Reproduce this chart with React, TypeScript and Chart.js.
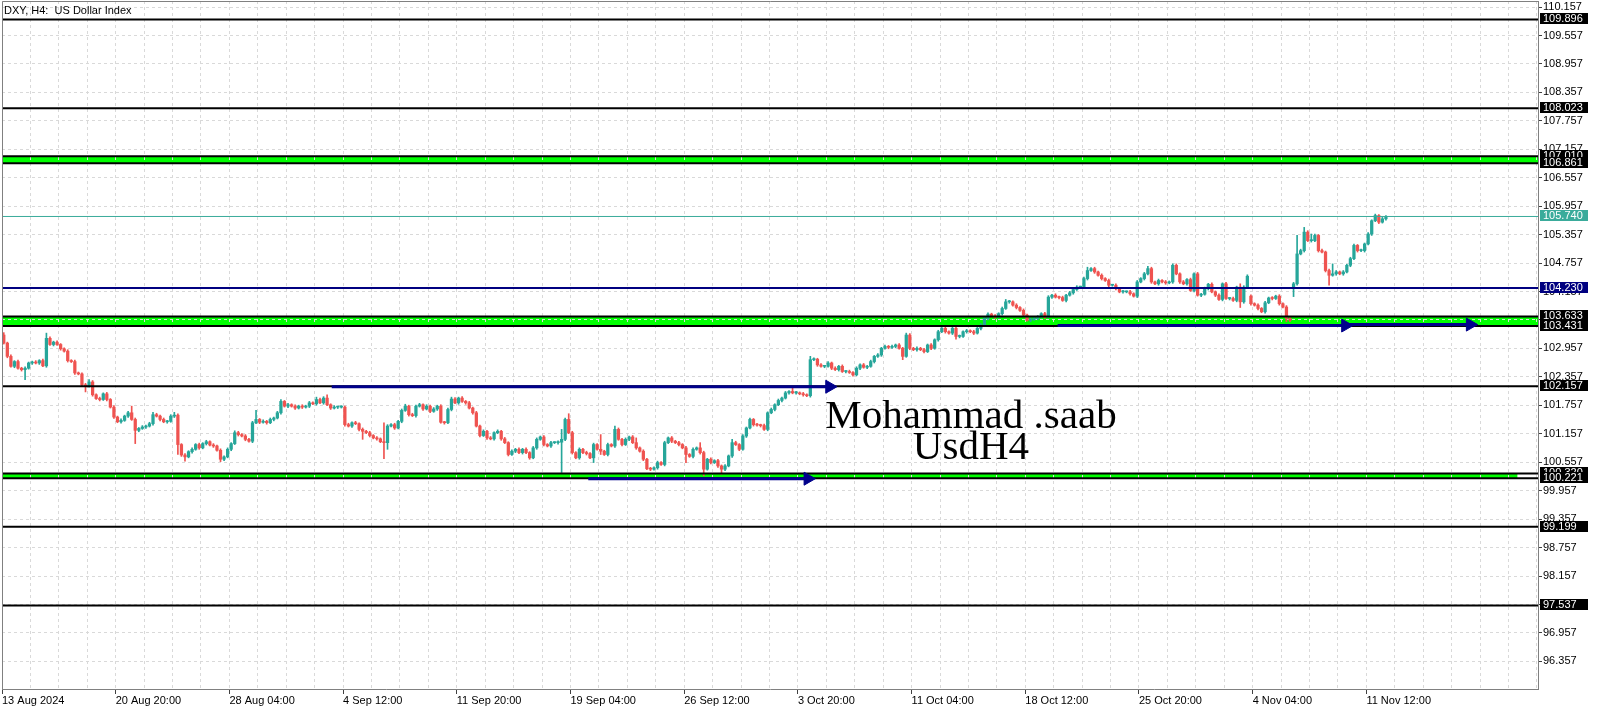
import React, { useEffect, useRef } from 'react';
import { Chart, registerables } from 'chart.js';

Chart.register(...registerables);

// ---------------- data ----------------
const firstOpen = 103.24;

// H4 closes, bar 0 = 13 Aug 2024
const closes: number[] = [
  103.07, 102.79, 102.58, 102.68, 102.54, 102.51, 102.54, 102.65, 102.67, 102.65,
  102.70, 102.59, 103.17, 103.04, 103.09, 103.04, 102.95, 102.90, 102.70, 102.68,
  102.44, 102.42, 102.19, 102.16, 102.25, 101.98, 101.90, 101.88, 102.00, 101.88,
  101.72, 101.51, 101.41, 101.44, 101.53, 101.60, 101.46, 101.23, 101.27, 101.30,
  101.32, 101.37, 101.56, 101.53, 101.46, 101.41, 101.42, 101.53, 101.55, 100.93,
  100.71, 100.67, 100.78, 100.83, 100.93, 100.86, 100.95, 100.99, 100.92, 100.90,
  100.81, 100.62, 100.67, 100.83, 100.95, 101.18, 101.14, 101.11, 101.04, 101.00,
  101.39, 101.46, 101.40, 101.42, 101.39, 101.46, 101.49, 101.60, 101.84, 101.74,
  101.77, 101.74, 101.70, 101.74, 101.72, 101.74, 101.81, 101.79, 101.88, 101.81,
  101.91, 101.77, 101.70, 101.72, 101.72, 101.72, 101.35, 101.32, 101.39, 101.37,
  101.25, 101.21, 101.18, 101.12, 101.07, 101.05, 100.99, 100.97, 101.32, 101.35,
  101.28, 101.42, 101.65, 101.74, 101.56, 101.54, 101.74, 101.77, 101.68, 101.74,
  101.63, 101.68, 101.74, 101.40, 101.39, 101.67, 101.89, 101.81, 101.91, 101.84,
  101.81, 101.70, 101.60, 101.32, 101.12, 101.21, 101.07, 101.05, 101.18, 101.21,
  101.05, 100.97, 100.72, 100.79, 100.83, 100.76, 100.83, 100.76, 100.65, 100.86,
  101.04, 101.09, 100.93, 100.90, 100.97, 100.97, 100.98, 101.04, 101.46, 101.18,
  100.76, 100.65, 100.83, 100.76, 100.74, 100.65, 100.93, 100.83, 100.79, 100.72,
  100.93, 100.90, 101.25, 101.04, 100.93, 101.04, 101.09, 100.97, 100.86, 100.79,
  100.62, 100.42, 100.41, 100.44, 100.55, 100.51, 100.97, 101.07, 101.00, 100.97,
  100.93, 100.86, 100.72, 100.68, 100.83, 100.86, 100.76, 100.41, 100.62, 100.55,
  100.59, 100.48, 100.41, 100.48, 100.69, 100.97, 100.93, 100.83, 101.11, 101.28,
  101.46, 101.35, 101.34, 101.33, 101.25, 101.60, 101.67, 101.77, 101.86, 101.91,
  102.02, 102.05, 102.02, 102.02, 102.00, 101.98, 101.96, 102.72, 102.73, 102.61,
  102.58, 102.58, 102.65, 102.54, 102.51, 102.58, 102.47, 102.47, 102.45, 102.40,
  102.54, 102.61, 102.56, 102.58, 102.68, 102.79, 102.82, 102.96, 103.00, 102.98,
  103.00, 103.03, 102.96, 102.79, 103.24, 102.96, 102.93, 102.96, 102.93, 102.89,
  103.03, 102.96, 103.14, 103.31, 103.38, 103.31, 103.28, 103.38, 103.21, 103.21,
  103.31, 103.33, 103.31, 103.28, 103.38, 103.45, 103.59, 103.68, 103.64, 103.62,
  103.69, 103.80, 103.94, 103.94, 103.87, 103.82, 103.76, 103.66, 103.55, 103.57,
  103.59, 103.62, 103.69, 103.62, 104.04, 104.08, 104.04, 104.03, 103.97, 104.08,
  104.13, 104.20, 104.25, 104.25, 104.43, 104.60, 104.64, 104.57, 104.50, 104.43,
  104.39, 104.29, 104.29, 104.22, 104.15, 104.15, 104.15, 104.11, 104.06, 104.36,
  104.43, 104.53, 104.64, 104.36, 104.32, 104.39, 104.36, 104.34, 104.36, 104.71,
  104.53, 104.36, 104.32, 104.41, 104.18, 104.53, 104.08, 104.10, 104.22, 104.31,
  104.15, 104.08, 103.99, 104.32, 104.01, 104.01, 103.97, 104.25, 103.94, 104.25,
  104.48, 103.90, 103.87, 103.80, 103.73, 103.92, 104.02, 104.01, 104.06, 103.90,
  103.83, 103.59, 103.55, 104.32, 104.95, 105.02, 105.41, 105.23, 105.23, 105.34,
  105.02, 104.99, 104.60, 104.50, 104.53, 104.57, 104.53, 104.57, 104.71, 104.85,
  105.13, 105.02, 105.02, 105.16, 105.37, 105.65, 105.76, 105.62, 105.69, 105.74,
];

// wick lengths above / below the body, in 0.01 price units
const upperWick: number[] = [
  5, 2, 3, 2, 3, 2, 3, 2, 2, 3,
  2, 3, 11, 3, 2, 3, 2, 2, 3, 2,
  3, 2, 2, 3, 5, 3, 2, 3, 2, 3,
  2, 3, 2, 3, 2, 3, 14, 3, 2, 3,
  2, 3, 5, 3, 2, 3, 2, 3, 6, 3,
  2, 3, 2, 3, 2, 3, 2, 3, 2, 3,
  2, 3, 2, 3, 2, 4, 3, 2, 3, 2,
  3, 19, 2, 3, 2, 3, 2, 3, 4, 2,
  3, 2, 3, 2, 3, 2, 3, 2, 5, 3,
  3, 7, 2, 3, 2, 3, 2, 3, 2, 3,
  2, 3, 2, 3, 2, 3, 2, 40, 3, 2,
  3, 2, 3, 4, 2, 3, 2, 3, 2, 3,
  2, 3, 2, 3, 2, 3, 4, 3, 2, 3,
  2, 3, 2, 3, 2, 3, 2, 3, 2, 3,
  2, 3, 2, 3, 2, 3, 2, 3, 2, 3,
  3, 2, 3, 2, 3, 2, 3, 21, 3, 12,
  3, 2, 3, 2, 3, 2, 3, 2, 31, 2,
  3, 2, 7, 3, 2, 3, 2, 3, 10, 2,
  3, 2, 3, 2, 3, 2, 3, 2, 3, 2,
  3, 2, 3, 2, 3, 2, 11, 3, 2, 3,
  2, 3, 2, 3, 2, 7, 3, 2, 3, 2,
  3, 2, 3, 2, 3, 2, 3, 2, 3, 2,
  3, 2, 9, 3, 2, 3, 2, 7, 3, 2,
  3, 2, 3, 2, 3, 2, 3, 2, 3, 2,
  3, 2, 3, 2, 3, 2, 3, 2, 3, 2,
  3, 2, 3, 2, 4, 3, 2, 3, 2, 3,
  2, 3, 2, 3, 2, 3, 2, 3, 2, 3,
  2, 3, 2, 3, 2, 3, 2, 3, 2, 3,
  2, 3, 5, 3, 2, 3, 2, 3, 2, 3,
  2, 3, 2, 3, 3, 2, 3, 2, 3, 2,
  3, 2, 3, 2, 3, 7, 2, 3, 2, 3,
  2, 3, 2, 3, 2, 3, 2, 3, 2, 3,
  2, 3, 5, 3, 2, 3, 2, 3, 2, 3,
  3, 2, 3, 2, 3, 2, 3, 2, 3, 2,
  3, 2, 3, 2, 3, 2, 3, 2, 7, 3,
  3, 3, 2, 3, 2, 3, 2, 3, 2, 3,
  2, 3, 2, 3, 39, 3, 10, 3, 14, 3,
  2, 3, 2, 3, 21, 3, 2, 3, 2, 3,
  3, 2, 3, 2, 3, 2, 3, 2, 3, 2,
];

const lowerWick: number[] = [
  2, 3, 2, 3, 2, 3, 21, 2, 3, 2,
  3, 2, 3, 2, 3, 2, 3, 2, 3, 2,
  3, 2, 3, 12, 2, 3, 2, 3, 2, 3,
  2, 3, 2, 3, 2, 3, 2, 28, 3, 2,
  3, 2, 3, 2, 3, 2, 3, 2, 3, 21,
  3, 9, 2, 3, 2, 3, 2, 3, 2, 3,
  2, 5, 3, 2, 3, 2, 3, 2, 3, 2,
  3, 2, 3, 2, 3, 2, 3, 2, 3, 2,
  3, 2, 3, 2, 3, 2, 3, 2, 3, 2,
  3, 2, 3, 2, 3, 2, 3, 2, 3, 2,
  3, 17, 2, 3, 2, 3, 2, 34, 14, 2,
  3, 2, 3, 2, 3, 2, 3, 2, 3, 2,
  3, 2, 3, 2, 3, 2, 3, 2, 3, 2,
  3, 2, 3, 2, 3, 2, 3, 2, 3, 2,
  3, 2, 3, 2, 3, 2, 3, 2, 3, 2,
  3, 2, 3, 2, 3, 2, 3, 64, 3, 2,
  3, 2, 3, 2, 3, 2, 10, 2, 7, 2,
  3, 2, 3, 2, 3, 2, 3, 2, 3, 2,
  3, 2, 3, 2, 3, 2, 3, 2, 3, 2,
  3, 2, 17, 2, 3, 2, 3, 14, 2, 3,
  2, 3, 11, 3, 2, 3, 2, 3, 2, 3,
  2, 3, 2, 3, 2, 3, 2, 3, 2, 3,
  2, 3, 2, 3, 2, 3, 2, 3, 2, 3,
  2, 3, 2, 3, 2, 3, 2, 3, 2, 3,
  2, 3, 2, 3, 2, 3, 2, 3, 2, 3,
  2, 3, 2, 7, 2, 3, 2, 3, 2, 3,
  2, 3, 2, 3, 2, 3, 2, 3, 6, 3,
  2, 3, 2, 3, 2, 3, 2, 3, 2, 3,
  2, 3, 2, 3, 2, 3, 2, 3, 2, 3,
  2, 3, 2, 3, 2, 3, 2, 3, 2, 3,
  2, 3, 2, 3, 2, 3, 2, 3, 2, 3,
  2, 3, 2, 3, 2, 3, 2, 3, 2, 3,
  2, 3, 2, 3, 2, 3, 2, 3, 2, 3,
  2, 3, 2, 3, 2, 3, 2, 3, 2, 3,
  2, 3, 2, 3, 2, 3, 2, 3, 12, 3,
  2, 3, 2, 3, 2, 3, 2, 3, 2, 3,
  2, 7, 3, 20, 3, 2, 3, 2, 3, 2,
  3, 2, 3, 21, 2, 3, 2, 3, 2, 3,
  2, 3, 2, 3, 2, 3, 2, 3, 2, 3,
];

// bars that opened with a gap
const gapOpenIndex = [351, 363];
const gapOpenValue = [104.06, 104.25];

const yTickValues = [
  110.157, 109.557, 108.957, 108.357, 107.757, 107.157, 106.557, 105.957,
  105.357, 104.757, 104.157, 103.557, 102.957, 102.357, 101.757, 101.157,
  100.557, 99.957, 99.357, 98.757, 98.157, 97.557, 96.957, 96.357,
];
const xLabelIndex = [-0.5, 31.5, 63.5, 95.5, 127.5, 159.5, 191.5, 223.5, 255.5, 287.5, 319.5, 351.5, 383.5];
const xLabelText = [
  '13 Aug 2024', '20 Aug 20:00', '28 Aug 04:00', '4 Sep 12:00', '11 Sep 20:00', '19 Sep 04:00',
  '26 Sep 12:00', '3 Oct 20:00', '11 Oct 04:00', '18 Oct 12:00', '25 Oct 20:00', '4 Nov 04:00', '11 Nov 12:00',
];
const barsPerGrid = 8;

const X_MIN = -0.5;
const X_MAX = 431.8;
const Y_MIN = 95.775;
const Y_MAX = 110.284;

const blackLevels = [109.896, 108.023, 107.010, 106.861, 103.633, 103.431, 102.157, 100.320, 100.221, 99.199, 97.537];
const bidLevel = 105.740;
const navyLevel = 104.230;
const bandTop = [107.010, 103.633, 100.320];
const bandBottom = [106.861, 103.431, 100.221];
const bandEndIndex = [X_MAX, X_MAX, 426];
const arrowStart = [92.3, 164.5, 296.6, 378];
const arrowEnd = [232.4, 226.3, 377.6, 412.7];
const arrowPrice = [102.15, 100.21, 103.44, 103.46];
const watermarkLines = ['Mohammad .saab', 'UsdH4'];
const watermarkIndex = 272.2;
const watermarkPrice = [101.272, 100.625];
const chartTitle = 'DXY, H4:  US Dollar Index';

// ---------------- styles ----------------
const FONT = '"Liberation Sans", Arial, sans-serif';
const BULL = '#26a69a';
const BEAR = '#ef5350';
const GRID = '#d9d9d9';
const NAVY = '#00008b';
const TEAL = '#3aab9b';
const AXIS = '#808080';

export default function App() {
  const canvasRef = useRef<HTMLCanvasElement | null>(null);

  useEffect(() => {
    document.body.style.margin = '0';
    const canvas = canvasRef.current;
    if (!canvas) return;

    const opens = closes.map((_, i) => {
      const g = gapOpenIndex.indexOf(i);
      if (g >= 0) return gapOpenValue[g];
      return i === 0 ? firstOpen : closes[i - 1];
    });
    const highs = closes.map((c, i) => Math.max(opens[i], c) + upperWick[i] / 100);
    const lows = closes.map((c, i) => Math.min(opens[i], c) - lowerWick[i] / 100);
    const colors = closes.map((c, i) => (c >= opens[i] ? BULL : BEAR));

    const levelDataset = (p: number, color: string, width: number) => ({
      type: 'line',
      data: [{ x: X_MIN, y: p }, { x: X_MAX, y: p }],
      borderColor: color,
      borderWidth: width,
      pointRadius: 0,
      fill: false,
      tension: 0,
      order: 1,
    });

    const datasets: any[] = [];
    datasets.push({
      type: 'bar',
      data: closes.map((_, i) => ({ x: i, y: [lows[i], highs[i]] })),
      backgroundColor: colors,
      borderWidth: 0,
      barThickness: 1,
      grouped: false,
      order: 6,
    });
    datasets.push({
      type: 'bar',
      data: closes.map((c, i) => ({ x: i, y: [opens[i], c] })),
      backgroundColor: colors,
      borderWidth: 0,
      barThickness: 2.6,
      minBarLength: 1,
      grouped: false,
      order: 5,
    });
    blackLevels.forEach((p) => datasets.push(levelDataset(p, '#000000', 2)));
    datasets.push(levelDataset(bidLevel, TEAL, 1));
    datasets.push(levelDataset(navyLevel, '#000080', 2));
    arrowStart.forEach((s, k) =>
      datasets.push({
        type: 'line',
        data: [{ x: s, y: arrowPrice[k] }, { x: arrowEnd[k], y: arrowPrice[k] }],
        borderColor: NAVY,
        borderWidth: 3,
        fill: false,
        tension: 0,
        order: 0,
        pointStyle: 'triangle',
        pointRotation: 90,
        pointRadius: (ctx: any) => (ctx.dataIndex === 1 ? 7.5 : 0),
        pointHoverRadius: (ctx: any) => (ctx.dataIndex === 1 ? 7.5 : 0),
        pointBackgroundColor: NAVY,
        pointBorderColor: NAVY,
        pointBorderWidth: 1,
      })
    );

    const bandPlugin = {
      id: 'bands',
      beforeDraw(chart: any) {
        const { ctx, chartArea, scales } = chart;
        const xs = scales.x, ys = scales.y;
        ctx.save();
        ctx.beginPath();
        ctx.rect(chartArea.left, chartArea.top, chartArea.right - chartArea.left, chartArea.bottom - chartArea.top);
        ctx.clip();
        ctx.fillStyle = '#00ff00';
        bandTop.forEach((t, k) => {
          const x0 = xs.getPixelForValue(X_MIN);
          const x1 = xs.getPixelForValue(bandEndIndex[k]);
          const y0 = ys.getPixelForValue(t);
          const y1 = ys.getPixelForValue(bandBottom[k]);
          ctx.fillRect(x0, y0, x1 - x0, y1 - y0);
        });
        ctx.restore();
      },
    };

    const watermarkPlugin = {
      id: 'watermark',
      afterDatasetsDraw(chart: any) {
        const { ctx, scales } = chart;
        ctx.save();
        ctx.font = '41px "Liberation Serif", "Times New Roman", serif';
        ctx.fillStyle = '#000000';
        ctx.textAlign = 'center';
        ctx.textBaseline = 'alphabetic';
        watermarkLines.forEach((t, k) => {
          ctx.fillText(t, scales.x.getPixelForValue(watermarkIndex), scales.y.getPixelForValue(watermarkPrice[k]));
        });
        ctx.restore();
      },
    };

    const overlayPlugin = {
      id: 'overlay',
      afterDraw(chart: any) {
        const { ctx, chartArea, scales } = chart;
        const ys = scales.y;
        ctx.save();
        ctx.strokeStyle = AXIS;
        ctx.lineWidth = 1;
        ctx.beginPath();
        ctx.moveTo(chartArea.left + 0.5, chartArea.bottom);
        ctx.lineTo(chartArea.left + 0.5, chartArea.top + 0.5);
        ctx.lineTo(chartArea.right, chartArea.top + 0.5);
        ctx.stroke();

        const tags = [
          ...blackLevels.map((p) => ({ p, bg: '#000000' })),
          { p: bidLevel, bg: TEAL },
          { p: navyLevel, bg: '#000080' },
        ].sort((a, b) => b.p - a.p);
        ctx.font = `11px ${FONT}`;
        ctx.textBaseline = 'middle';
        ctx.textAlign = 'left';
        tags.forEach((t) => {
          const py = Math.round(ys.getPixelForValue(t.p));
          ctx.fillStyle = t.bg;
          ctx.fillRect(chartArea.right + 2, py - 6, 48, 11);
          ctx.fillStyle = '#ffffff';
          ctx.fillText(t.p.toFixed(3), chartArea.right + 5, py);
        });

        ctx.fillStyle = '#000000';
        ctx.fillText(chartTitle, chartArea.left + 2, chartArea.top + 10);
        ctx.restore();
      },
    };

    const chart = new Chart(canvas, {
      type: 'line',
      data: { datasets },
      options: {
        animation: false,
        responsive: true,
        maintainAspectRatio: false,
        devicePixelRatio: 1,
        events: [],
        layout: { autoPadding: false, padding: { left: 2, top: 1, right: 0, bottom: 0 } },
        plugins: {
          legend: { display: false },
          tooltip: { enabled: false },
          title: { display: false },
        },
        scales: {
          x: {
            type: 'linear',
            min: X_MIN,
            max: X_MAX,
            bounds: 'data',
            offset: false,
            afterBuildTicks: (s: any) => {
              const t: any[] = [];
              for (let v = X_MIN; v <= X_MAX; v += barsPerGrid) t.push({ value: v });
              s.ticks = t;
            },
            afterFit: (s: any) => {
              s.height = 22;
              s.paddingLeft = 0;
              s.paddingRight = 0;
              s.paddingTop = 0;
              s.paddingBottom = 0;
            },
            ticks: {
              autoSkip: false,
              maxRotation: 0,
              minRotation: 0,
              align: 'start',
              padding: 0,
              color: '#000000',
              font: { family: FONT, size: 11 },
              callback: (v: any) => {
                const k = xLabelIndex.indexOf(Number(v));
                return k >= 0 ? xLabelText[k] : '';
              },
            },
            grid: {
              offset: false,
              color: GRID,
              lineWidth: 1,
              drawTicks: true,
              tickLength: 5,
              tickWidth: 1,
              tickColor: (ctx: any) =>
                ctx.tick && xLabelIndex.includes(ctx.tick.value) ? '#404040' : 'rgba(0,0,0,0)',
            },
            border: { display: true, color: AXIS, width: 1, dash: [3, 3] },
          } as any,
          y: {
            type: 'linear',
            position: 'right',
            min: Y_MIN,
            max: Y_MAX,
            bounds: 'data',
            afterBuildTicks: (s: any) => {
              s.ticks = yTickValues.map((v) => ({ value: v }));
            },
            afterFit: (s: any) => {
              s.width = 62;
              s.paddingLeft = 0;
              s.paddingRight = 0;
              s.paddingTop = 0;
              s.paddingBottom = 0;
            },
            ticks: {
              autoSkip: false,
              padding: 1,
              color: '#000000',
              font: { family: FONT, size: 11 },
              callback: (v: any) => Number(v).toFixed(3),
            },
            grid: {
              color: GRID,
              lineWidth: 1,
              drawTicks: true,
              tickLength: 4,
              tickWidth: 1,
              tickColor: '#404040',
            },
            border: { display: true, color: AXIS, width: 1, dash: [3, 3] },
          } as any,
        },
      },
      plugins: [bandPlugin, watermarkPlugin, overlayPlugin],
    } as any);

    return () => chart.destroy();
  }, []);

  return (
    <div style={{ position: 'absolute', left: 0, top: 0, width: 1600, height: 711, background: '#ffffff' }}>
      <canvas ref={canvasRef} />
    </div>
  );
}
